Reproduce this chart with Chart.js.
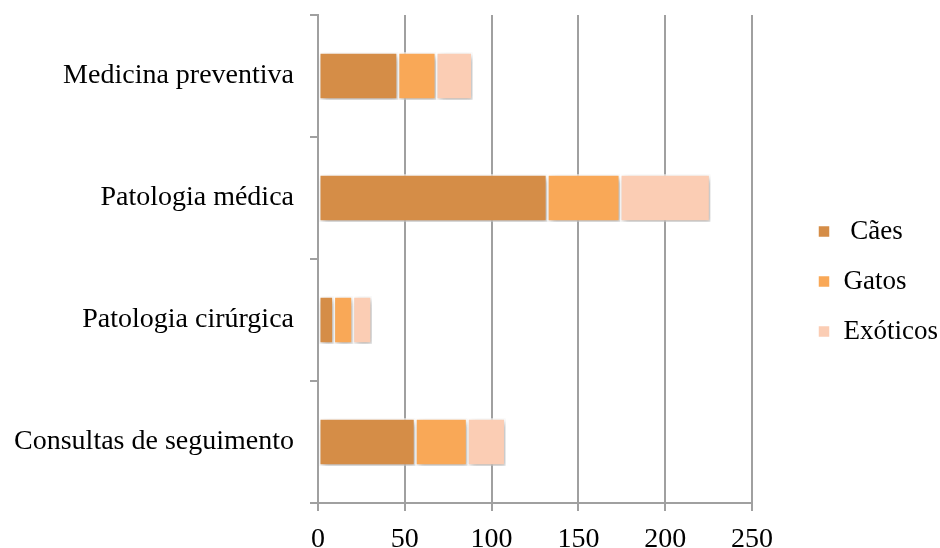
<!DOCTYPE html>
<html>
<head>
<meta charset="utf-8">
<script src="https://cdn.jsdelivr.net/npm/chart.js@4"></script>
<style>
  html, body { margin: 0; padding: 0; background: #fff; }
  #wrap { width: 940px; height: 548px; }
</style>
</head>
<body>
<div id="wrap"><canvas id="chart" width="940" height="548"></canvas></div>
<script>
const categorias = ["Medicina preventiva", "Patologia médica", "Patologia cirúrgica", "Consultas de seguimento"];
const caes = [46, 132, 9, 56];
const gatos = [22, 42, 11, 30];
const exoticos = [21, 52, 11, 22];
const xTicks = [0, 50, 100, 150, 200, 250];

const cores = ["#d58d47", "#f9a857", "#fbcdb4"];
const fonte = "'Liberation Serif', serif";

// sombra nas barras
const sombra = {
  id: "sombra",
  beforeDatasetsDraw(chart) {
    const ctx = chart.ctx;
    ctx.save();
    ctx.shadowColor = "rgba(0,0,0,0.3)";
    ctx.shadowBlur = 6;
    ctx.shadowOffsetX = 2;
    ctx.shadowOffsetY = 3;
  },
  afterDatasetsDraw(chart) {
    chart.ctx.restore();
  },
};

const ds = (label, data, cor) => ({
  label: label,
  data: data,
  backgroundColor: cor,
  borderColor: "#ffffff",
  borderWidth: 1.5,
  borderSkipped: false,
  barPercentage: 0.78,
  categoryPercentage: 0.5,
  xAxisID: "x",
  yAxisID: "y",
});

new Chart(document.getElementById("chart"), {
  type: "bar",
  data: {
    labels: categorias,
    datasets: [
      ds(" Cães", caes, cores[0]),
      ds("Gatos", gatos, cores[1]),
      ds("Exóticos", exoticos, cores[2]),
    ],
  },
  options: {
    indexAxis: "y",
    responsive: false,
    animation: false,
    layout: { padding: { top: 15, right: 0, bottom: 0, left: 0 } },
    plugins: {
      tooltip: { enabled: false },
      legend: {
        position: "right",
        maxWidth: 145,
        labels: {
          font: { family: fonte, size: 27 },
          color: "#000",
          boxWidth: 12,
          boxHeight: 12,
          padding: 23,
        },
      },
    },
    scales: {
      x: {
        stacked: true,
        min: 0,
        max: 250,
        afterBuildTicks: (axis) => {
          axis.ticks = xTicks.map((v) => ({ value: v }));
        },
        afterFit: (axis) => {
          axis.height = 45;
          axis.paddingLeft = 0;
          axis.paddingRight = 0;
        },
        grid: { color: "#a0a0a0", lineWidth: 2, tickLength: 8 },
        border: { color: "#a0a0a0", width: 2 },
        ticks: { font: { family: fonte, size: 28 }, color: "#000", padding: 12 },
      },
      y: {
        stacked: true,
        afterFit: (axis) => {
          axis.width = 318;
          axis.paddingTop = 0;
          axis.paddingBottom = 0;
        },
        grid: { drawOnChartArea: false, color: "#a0a0a0", lineWidth: 2, tickLength: 8 },
        border: { color: "#a0a0a0", width: 2 },
        ticks: { font: { family: fonte, size: 28 }, color: "#000", padding: 16 },
      },
      // espaço vazio entre a área do gráfico e a legenda
      espaco: {
        type: "linear",
        position: "right",
        display: true,
        afterFit: (axis) => {
          axis.width = 43;
          axis.paddingTop = 0;
          axis.paddingBottom = 0;
        },
        grid: { display: false },
        border: { display: false },
        ticks: { display: false },
      },
    },
  },
  plugins: [sombra],
});
</script>
</body>
</html>
